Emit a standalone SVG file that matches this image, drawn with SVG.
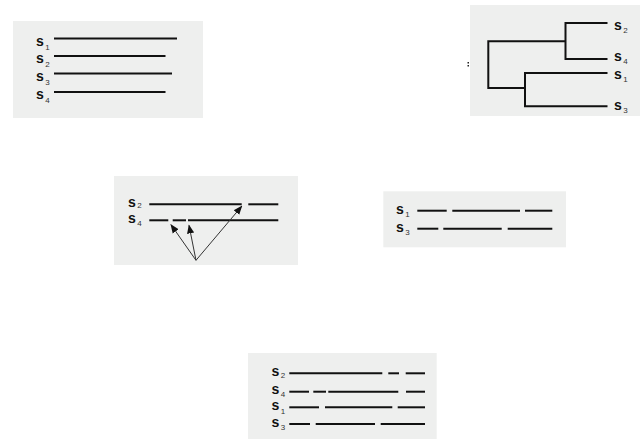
<svg xmlns="http://www.w3.org/2000/svg" width="642" height="441" viewBox="0 0 642 441">
<style>
.bg{fill:#eeefee;stroke:none}
.ln{stroke:#111;stroke-width:2;fill:none}
.tr{stroke:#111;stroke-width:2;fill:none}
.ar{stroke:#333;stroke-width:1;fill:none}
.s{font-family:"Liberation Sans",Arial,sans-serif;font-weight:bold;font-size:14px;fill:#111}
.sub{font-family:"Liberation Sans",Arial,sans-serif;font-weight:normal;font-size:8px;fill:#333}
</style>
<defs>
<marker id="ah" viewBox="0 0 10 10" refX="9" refY="5" markerWidth="9" markerHeight="9" markerUnits="userSpaceOnUse" orient="auto">
<path d="M0,1 L10,5 L0,9 z" fill="#111"/>
</marker>
</defs>
<rect width="642" height="441" fill="#fff"/>

<g id="panel-input">
<rect class="bg" x="13" y="21" width="190" height="97"/>
<text class="s" x="36" y="46">s<tspan class="sub" dx="1.5" dy="4">1</tspan></text>
<text class="s" x="36" y="63">s<tspan class="sub" dx="1.5" dy="4">2</tspan></text>
<text class="s" x="36" y="81">s<tspan class="sub" dx="1.5" dy="4">3</tspan></text>
<text class="s" x="36" y="99">s<tspan class="sub" dx="1.5" dy="4">4</tspan></text>
<line class="ln" x1="54" y1="38.5" x2="177" y2="38.5"/>
<line class="ln" x1="54" y1="56" x2="165.5" y2="56"/>
<line class="ln" x1="54" y1="73.5" x2="172" y2="73.5"/>
<line class="ln" x1="54" y1="92" x2="165.5" y2="92"/>
</g>

<g id="panel-tree">
<rect class="bg" x="470" y="5" width="170" height="111"/>
<rect x="467.5" y="62" width="1.5" height="1.5" fill="#222"/>
<rect x="467.5" y="65" width="1.5" height="1.5" fill="#222"/>
<path class="tr" d="M607.5,23 H565.5 V59 H607.5 M565.5,41.3 H488.3 V88 H525 M607.5,73 H525 V106.3 H607.5"/>
<text class="s" x="614" y="30">s<tspan class="sub" dx="1.5" dy="3">2</tspan></text>
<text class="s" x="614" y="61">s<tspan class="sub" dx="1.5" dy="3">4</tspan></text>
<text class="s" x="614" y="79">s<tspan class="sub" dx="1.5" dy="3">1</tspan></text>
<text class="s" x="614" y="110">s<tspan class="sub" dx="1.5" dy="3">3</tspan></text>
</g>

<g id="panel-align-24">
<rect class="bg" x="114" y="176" width="184" height="89"/>
<text class="s" x="128" y="207">s<tspan class="sub" dx="1.5" dy="1">2</tspan></text>
<text class="s" x="128" y="223">s<tspan class="sub" dx="1.5" dy="3">4</tspan></text>
<line class="ln" x1="149.3" y1="204.3" x2="241.7" y2="204.3"/>
<line class="ln" x1="248.3" y1="204.3" x2="278.3" y2="204.3"/>
<line class="ln" x1="149.3" y1="220.3" x2="168.3" y2="220.3"/>
<line class="ln" x1="172.7" y1="220.3" x2="186" y2="220.3"/>
<line class="ln" x1="188" y1="220.3" x2="278.3" y2="220.3"/>
</g>

<g id="panel-align-13">
<rect class="bg" x="383.3" y="191.3" width="182.7" height="56"/>
<text class="s" x="396" y="214">s<tspan class="sub" dx="1.5" dy="3">1</tspan></text>
<text class="s" x="396" y="232">s<tspan class="sub" dx="1.5" dy="3">3</tspan></text>
<line class="ln" x1="417.3" y1="210.7" x2="446.7" y2="210.7"/>
<line class="ln" x1="452.3" y1="210.7" x2="520" y2="210.7"/>
<line class="ln" x1="525" y1="210.7" x2="552.3" y2="210.7"/>
<line class="ln" x1="417.3" y1="228.7" x2="438.3" y2="228.7"/>
<line class="ln" x1="443.3" y1="228.7" x2="501.7" y2="228.7"/>
<line class="ln" x1="507.7" y1="228.7" x2="552.3" y2="228.7"/>
</g>

<g id="panel-final">
<rect class="bg" x="248" y="353" width="188.7" height="86"/>
<text class="s" x="271.5" y="376">s<tspan class="sub" dx="1.5" dy="2">2</tspan></text>
<text class="s" x="271.5" y="394">s<tspan class="sub" dx="1.5" dy="3">4</tspan></text>
<text class="s" x="271.5" y="410">s<tspan class="sub" dx="1.5" dy="4">1</tspan></text>
<text class="s" x="271.5" y="427">s<tspan class="sub" dx="1.5" dy="3">3</tspan></text>
<line class="ln" x1="289.3" y1="373.3" x2="382.3" y2="373.3"/>
<line class="ln" x1="388.3" y1="373.3" x2="399" y2="373.3"/>
<line class="ln" x1="405.7" y1="373.3" x2="425" y2="373.3"/>
<line class="ln" x1="289.3" y1="391.7" x2="309" y2="391.7"/>
<line class="ln" x1="313.3" y1="391.7" x2="326" y2="391.7"/>
<line class="ln" x1="328.3" y1="391.7" x2="398.3" y2="391.7"/>
<line class="ln" x1="406" y1="391.7" x2="425" y2="391.7"/>
<line class="ln" x1="289.3" y1="407.3" x2="319" y2="407.3"/>
<line class="ln" x1="325" y1="407.3" x2="392.3" y2="407.3"/>
<line class="ln" x1="397.7" y1="407.3" x2="425" y2="407.3"/>
<line class="ln" x1="289.3" y1="424" x2="310" y2="424"/>
<line class="ln" x1="315.7" y1="424" x2="375" y2="424"/>
<line class="ln" x1="380.7" y1="424" x2="425" y2="424"/>
</g>

<g id="connectors">
<line class="ar" x1="196" y1="260.3" x2="171" y2="224.7" marker-end="url(#ah)"/>
<line class="ar" x1="196" y1="260.3" x2="189" y2="225.3" marker-end="url(#ah)"/>
<line class="ar" x1="196" y1="260.3" x2="241.7" y2="206.3" marker-end="url(#ah)"/>
</g>
</svg>
